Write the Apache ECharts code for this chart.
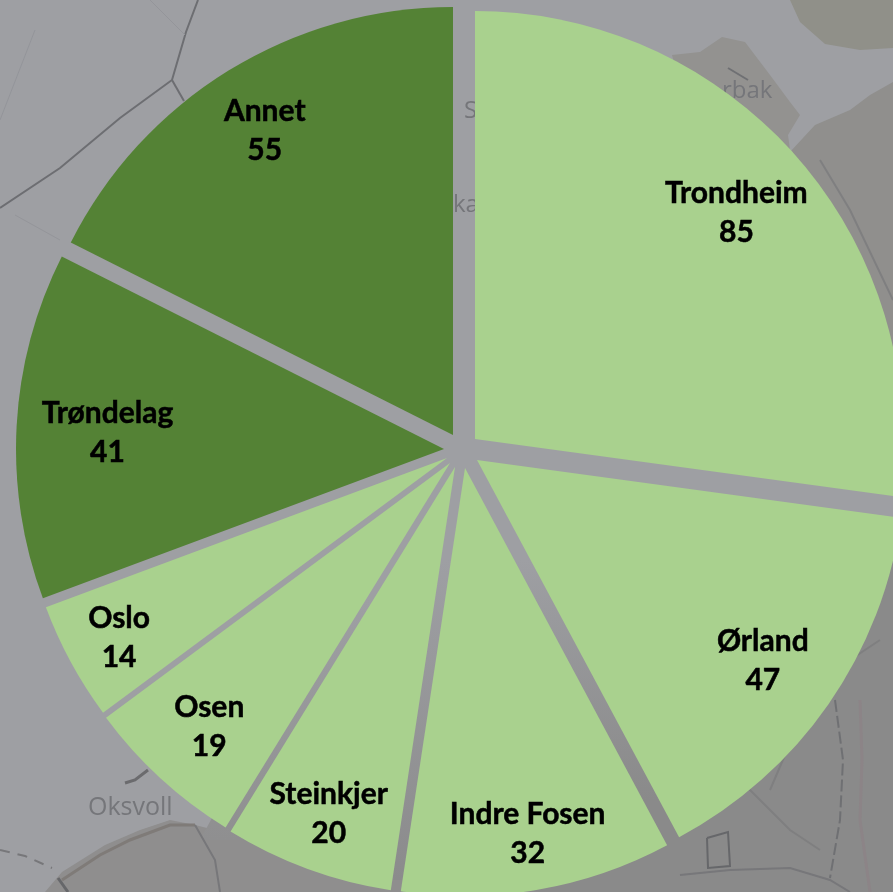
<!DOCTYPE html>
<html>
<head>
<meta charset="utf-8">
<title>Pie</title>
<style>
  html, body { margin: 0; padding: 0; background: #9e9fa3; }
  #chart { width: 893px; height: 892px; }
</style>
<script src="https://cdn.jsdelivr.net/npm/echarts@6/dist/echarts.min.js"></script>
</head>
<body>
<div id="chart"></div>
<script>
const places = ['Trondheim', 'Ørland', 'Indre Fosen', 'Steinkjer', 'Osen', 'Oslo', 'Trøndelag', 'Annet'];
const counts = [85, 47, 32, 20, 19, 14, 41, 55];

const LIGHT = '#a9d18e';
const DARK = '#548235';
const sliceColors = [LIGHT, LIGHT, LIGHT, LIGHT, LIGHT, LIGHT, DARK, DARK];

// every slice is pulled out of the pie by its own amount
const R = 428;
const sliceCenters = [[475, 439], [477, 460], [465, 468], [455, 467], [450, 463], [447, 458], [444, 449], [453, 435]];
const labelRadius = [344, 345, 366, 364, 353, 370, 334, 356];

const total = counts.reduce((a, b) => a + b, 0);
let running = 0;

const series = counts.map((count, i) => {
  const mid = (running + count / 2) / total * Math.PI * 2;
  running += count;
  const shift = labelRadius[i] - R / 2;
  return {
    type: 'pie',
    silent: true,
    animation: false,
    startAngle: 90,
    minShowLabelAngle: 0,
    avoidLabelOverlap: false,
    center: sliceCenters[i],
    radius: [0, R],
    label: {
      position: 'inside',
      formatter: '{b}\n{c}',
      fontFamily: 'Lato',
      fontWeight: 'bold',
      fontSize: 30,
      lineHeight: 39,
      color: '#000',
      textBorderColor: '#000',
      textBorderWidth: 0.5
    },
    labelLine: { show: false },
    labelLayout: { dx: shift * Math.sin(mid), dy: 2 - shift * Math.cos(mid) },
    data: counts.map((v, j) => ({
      value: v,
      name: places[j],
      itemStyle: { color: j === i ? sliceColors[i] : 'transparent' },
      label: { show: j === i }
    }))
  };
});

// fades the grey into the land so the gaps between slices darken slowly
const fadeTo = (color) => ({
  type: 'linear', x: 0, y: 0, x2: 0, y2: 1,
  colorStops: [{ offset: 0, color: '#9e9fa3' }, { offset: 1, color: color }]
});

// map behind the pie
const land = [
  { fill: '#909089', pts: [[790, 0], [800, 22], [825, 44], [860, 50], [893, 48], [893, 0]] },
  { fill: '#939290', pts: [[672, 55], [700, 52], [722, 37], [745, 42], [770, 75], [790, 102], [800, 115], [788, 135], [790, 150], [700, 160]] },
  { fill: '#908f8d', pts: [[790, 152], [815, 125], [850, 110], [870, 95], [893, 82], [893, 440], [800, 300]] },
  { fill: '#8a8a8a', pts: [[893, 540], [893, 892], [430, 892], [610, 800], [730, 800]] },
  { fill: '#8f8e8e', pts: [[45, 892], [62, 872], [105, 845], [140, 830], [170, 820], [195, 825], [235, 835], [420, 880], [420, 892]] },
  { fill: fadeTo('#8b8b8c'), pts: [[405, 560], [455, 560], [425, 880], [375, 880]] },
  { fill: fadeTo('#8f8f90'), pts: [[330, 600], [420, 600], [280, 840], [200, 840]] },
  { fill: fadeTo('#8a8a8a'), pts: [[500, 560], [640, 560], [730, 800], [610, 800]] }
];
const roads = [
  { color: '#6d6e72', width: 2, pts: [[0, 208], [60, 168], [120, 118], [172, 80], [186, 32], [198, 0]] },
  { color: '#6d6e72', width: 2, pts: [[172, 80], [184, 101]] },
  { color: '#94959a', width: 1, pts: [[0, 120], [35, 30]] },
  { color: '#94959a', width: 1, pts: [[150, 0], [185, 35]] },
  { color: '#94959a', width: 1, pts: [[15, 215], [60, 240]] },
  { color: '#6b6b6e', width: 3, pts: [[125, 783], [135, 780], [148, 770]] },
  { color: '#77777a', width: 2, dash: [10, 8], pts: [[0, 850], [25, 856], [52, 868]] },
  { color: '#7f7b78', width: 3, pts: [[62, 880], [100, 855], [130, 840], [170, 825], [195, 825]] },
  { color: '#66676a', width: 3, pts: [[58, 878], [68, 892]] },
  { color: '#77777a', width: 2, pts: [[195, 825], [215, 860], [220, 892]] },
  { color: '#66676a', width: 2, pts: [[707, 838], [728, 832], [730, 866], [708, 868], [707, 838]] },
  { color: '#6f7073', width: 2, dash: [12, 4], pts: [[835, 700], [843, 760], [840, 820], [830, 878]] },
  { color: '#8c8487', width: 3, pts: [[860, 700], [862, 760], [860, 820], [870, 892]] },
  { color: '#77777a', width: 2, pts: [[680, 875], [730, 870], [790, 868], [830, 880], [850, 892]] },
  { color: '#7f7f80', width: 2, pts: [[820, 160], [850, 210], [893, 300]] },
  { color: '#7f7f80', width: 2, pts: [[790, 200], [830, 280], [893, 390]] },
  { color: '#7f7f80', width: 2, pts: [[880, 640], [850, 660], [800, 720], [770, 790]] },
  { color: '#7f7f80', width: 2, pts: [[740, 780], [790, 830], [820, 850]] },
  { color: '#6f7073', width: 2, pts: [[728, 68], [748, 80]] }
];
const mapTexts = [
  { text: 'Oksvoll', x: 88, y: 808, size: 25 },
  { text: 'rbak', x: 722, y: 91, size: 24 },
  { text: 'S', x: 464, y: 111, size: 24 },
  { text: 'ka', x: 453, y: 205, size: 24 }
];

const graphics = [{ type: 'rect', shape: { x: 0, y: 0, width: 893, height: 892 }, style: { fill: '#9e9fa3' } }];
land.forEach(l => graphics.push({ type: 'polygon', shape: { points: l.pts }, style: { fill: l.fill } }));
roads.forEach(r => graphics.push({
  type: 'polyline',
  shape: { points: r.pts },
  style: { stroke: r.color, lineWidth: r.width, fill: null, lineDash: r.dash || null }
}));
mapTexts.forEach(t => graphics.push({
  type: 'text',
  x: t.x,
  y: t.y,
  style: { text: t.text, fill: '#75767a', font: t.size + 'px "Open Sans"', verticalAlign: 'middle' }
}));

const chart = echarts.init(document.getElementById('chart'), null, { renderer: 'canvas', width: 893, height: 892 });
chart.setOption({
  animation: false,
  backgroundColor: '#9e9fa3',
  graphic: { elements: graphics.map(g => Object.assign({ silent: true, z: -1 }, g)) },
  series: series
});
</script>
</body>
</html>
